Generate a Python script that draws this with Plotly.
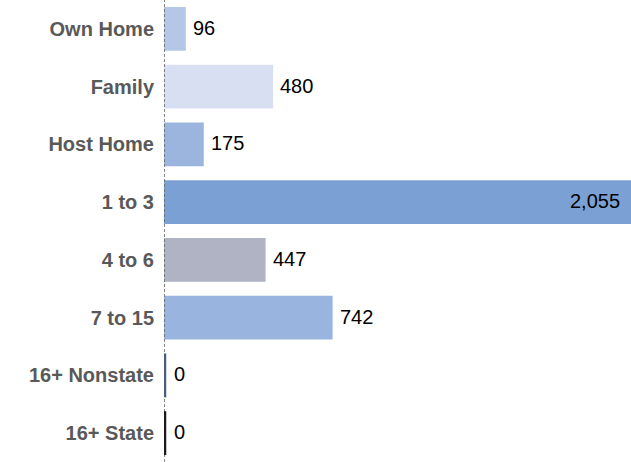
import plotly.graph_objects as go

# Residential setting categories and counts
categories = ["Own Home", "Family", "Host Home", "1 to 3", "4 to 6",
              "7 to 15", "16+ Nonstate", "16+ State"]
counts = [96, 480, 175, 2055, 447, 742, 0, 0]
bar_colors = ["#b4c7e7", "#d9dff3", "#9cb5de", "#7ba1d4", "#afb3c3",
              "#98b4df", "#4c5c80", "#1a1a1a"]

label_font = dict(family="Liberation Sans, Arial, sans-serif", size=20, color="#000000")

fig = go.Figure()
fig.add_trace(go.Bar(
    y=categories,
    x=counts,
    orientation="h",
    marker=dict(color=bar_colors, line=dict(width=0)),
    hoverinfo="skip",
))

# dashed baseline running the full height
shapes = [dict(type="line", xref="x", yref="paper", x0=0, x1=0, y0=0, y1=1,
               line=dict(color="#5f5f5f", width=1.5, dash="3px,2px"))]

max_val = max(counts)
annotations = []
for i, (cat, val) in enumerate(zip(categories, counts)):
    txt = f"{val:,}"
    if val == max_val:
        annotations.append(dict(x=val, y=cat, xref="x", yref="y", text=txt,
                                showarrow=False, xanchor="right", xshift=-9,
                                yshift=1, font=label_font))
    else:
        annotations.append(dict(x=val, y=cat, xref="x", yref="y", text=txt,
                                showarrow=False, xanchor="left",
                                xshift=8 if val == 0 else 5,
                                yshift=1, font=label_font))
    if val == 0:
        # zero-valued bars shown as a thin stroke at the baseline
        # (the plot area clips the left half of the stroke)
        shapes.append(dict(type="line", xref="x", yref="y",
                           x0=val, x1=val, y0=i - 0.38, y1=i + 0.38,
                           line=dict(color=bar_colors[i], width=4.5)))

fig.update_layout(
    width=631, height=462,
    margin=dict(l=164, r=0, t=0, b=0),
    paper_bgcolor="white", plot_bgcolor="white",
    bargap=0.24,
    showlegend=False,
    annotations=annotations,
    shapes=shapes,
    xaxis=dict(range=[0, max_val], visible=False, fixedrange=True),
    yaxis=dict(
        type="category",
        categoryorder="array", categoryarray=categories,
        range=[len(categories) - 0.5, -0.5],
        showline=False, showgrid=False, zeroline=False,
        ticks="", ticklabelstandoff=9,
        tickfont=dict(family="Liberation Sans, Arial, sans-serif", size=20,
                      color="#595959", weight="bold"),
    ),
)

fig.write_html("out.html")
